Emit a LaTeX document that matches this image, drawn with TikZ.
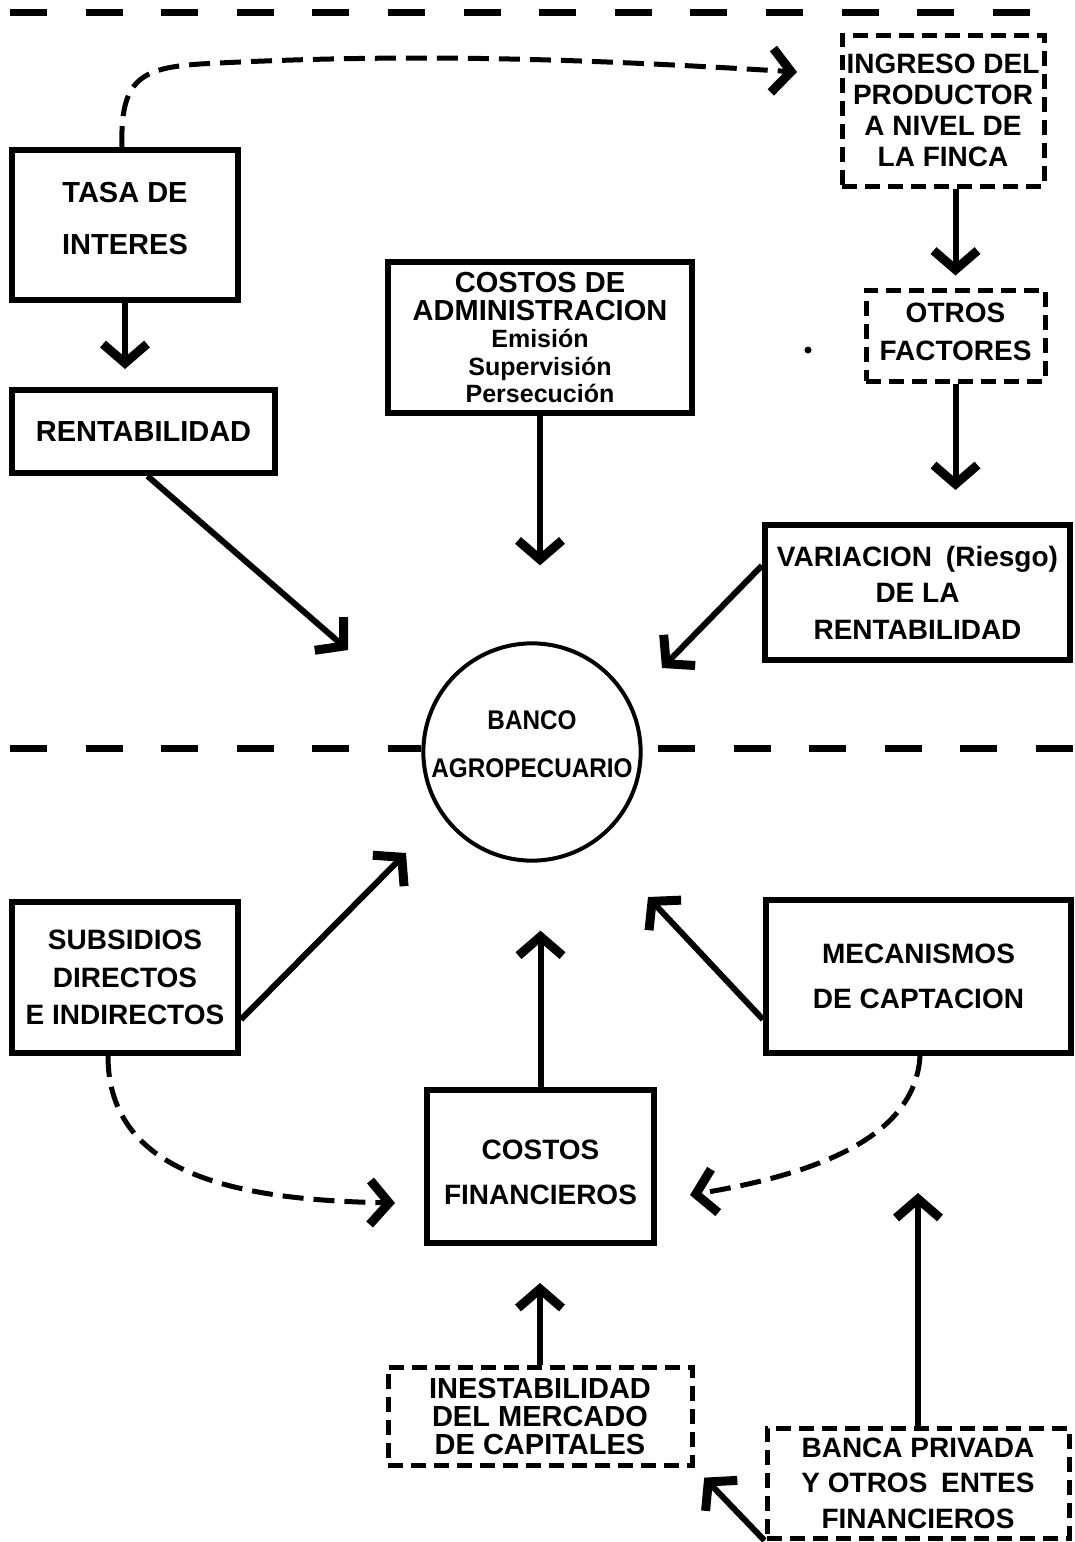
\documentclass[tikz,border=0pt]{standalone}
\usepackage{fontspec}
\setmainfont{Liberation Sans}
\newfontfamily\condensed{Liberation Sans}[FakeStretch=0.9]
\usetikzlibrary{arrows.meta,calc}

\begin{document}
\begin{tikzpicture}[x=1pt,y=-1pt,
  solidbox/.style={draw, line width=6pt, inner sep=0pt, align=center},
  dashbox/.style={draw, line width=5pt, dash pattern=on 15pt off 8pt, inner sep=0pt, align=center},
  tip/.style={-{Straight Barb[length=19pt,width=44pt,line width=9pt]}},
  conn/.style={line width=6pt, tip},
  dconn/.style={line width=5pt, dash pattern=on 21pt off 10pt, tip},
  sepline/.style={line width=7pt, dash pattern=on 37pt off 38.6pt},
  txt/.style 2 args={font=\bfseries\fontsize{#1}{#2}\selectfont}
]
\useasboundingbox (0,0) rectangle (1075,1542);

% separating dashed lines
\draw[sepline] (10,12) -- (1030,12);

% upper half
\node[solidbox, minimum width=226, minimum height=150, text depth=14pt,
      txt={29}{52}] (tasa) at (125,225) {TASA DE\\INTERES};
\node[solidbox, minimum width=263, minimum height=83,
      txt={29}{34}] (rent) at (143.5,431.5) {RENTABILIDAD};
\node[solidbox, minimum width=304, minimum height=151,
      txt={25}{27.5}] (cadm) at (540,337.5)
      {{\fontsize{29}{27.5}\selectfont COSTOS DE}\\{\fontsize{29}{27.5}\selectfont ADMINISTRACION}\\Emisión\\Supervisión\\Persecución};
\node[dashbox, minimum width=202, minimum height=151,
      txt={28}{31}] (ingreso) at (943,110.5) {INGRESO DEL\\PRODUCTOR\\A NIVEL DE\\LA FINCA};
\node[dashbox, minimum width=179, minimum height=91, text depth=8pt,
      txt={28}{38}] (otros) at (955.5,335.5) {OTROS\\FACTORES};
\node[solidbox, minimum width=305, minimum height=135,
      txt={28}{36.5}] (var) at (917.5,592.5) {VARIACION\hspace{14pt}(Riesgo)\\DE LA\\RENTABILIDAD};

% the bank in the middle
\node[draw, circle, line width=4pt, minimum size=216, inner sep=0pt, align=center,
      text depth=16pt, font=\condensed\bfseries\fontsize{27}{48}\selectfont]
      (banco) at (532,752) {BANCO\\AGROPECUARIO};

\draw[sepline] (10,748) -- (421,748);
\draw[sepline] (658,748) -- (1075,748);

% lower half
\node[solidbox, minimum width=226, minimum height=151,
      txt={28}{37.5}] (subs) at (125,977.5) {SUBSIDIOS\\DIRECTOS\\E INDIRECTOS};
\node[solidbox, minimum width=305, minimum height=153,
      txt={28}{45}] (meca) at (918.5,976.5) {MECANISMOS\\DE CAPTACION};
\node[solidbox, minimum width=227, minimum height=153, text height=76pt,
      txt={28}{45}] (cfin) at (540.5,1166.5) {COSTOS\\FINANCIEROS};
\node[dashbox, minimum width=304, minimum height=98,
      txt={29}{28}] (inest) at (540,1416) {INESTABILIDAD\\DEL MERCADO\\DE CAPITALES};
\node[dashbox, minimum width=302, minimum height=110,
      txt={28}{35.5}] (banca) at (918,1483) {BANCA PRIVADA\\Y OTROS\hspace{6pt} ENTES\\FINANCIEROS};

\fill (808,350) circle (3.5);

% free ends of the connectors
\coordinate (rentTip) at (348,650);
\coordinate (varTip) at (662,668);
\coordinate (subsTip) at (406,853);
\coordinate (mecaTip) at (648,897);
\coordinate (ingTip) at (797,72);
\coordinate (subsCfin) at (395,1203);
\coordinate (mecaCfin) at (690,1195);

% solid connectors
\draw[conn, shorten >=18pt] (tasa.south) -- (tasa.south |- rent.north);
\draw[conn] ($(rent.south)+(4,0)$) -- (rentTip);
\draw[conn, shorten >=76pt] (cadm.south) -- (cadm.south |- banco.north);
\draw[conn, shorten >=12pt] (otros.north |- ingreso.south) -- (otros.north);
\draw[conn, shorten >=32pt] (otros.south) -- (otros.south |- var.north);
\draw[conn] ($(var.west)+(0,-27)$) -- (varTip);
\draw[conn] ($(subs.east)+(0,42)$) -- (subsTip);
\draw[conn, shorten >=68pt] (cfin.north) -- (cfin.north |- banco.south);
\draw[conn] ($(meca.west)+(0,43)$) -- (mecaTip);
\draw[conn, shorten >=37pt] (inest.north) -- (inest.north |- cfin.south);
\draw[conn, shorten >=137pt] (banca.north) -- (banca.north |- meca.south);
\draw[conn, shorten >=14pt] (banca.south west) -- (inest.south east);

% dashed connectors
\draw[dconn] ($(tasa.north)+(-3,0)$) .. controls (120,80) and (140,68) .. (200,64)
  .. controls (420,52) and (600,60) .. (ingTip);
\draw[dconn] ($(subs.south)+(-17,0)$) .. controls (108,1180) and (250,1200) .. (subsCfin);
\draw[dconn] ($(meca.south)+(1.5,0)$) .. controls (915,1140) and (810,1175) .. (mecaCfin);
\end{tikzpicture}
\end{document}
